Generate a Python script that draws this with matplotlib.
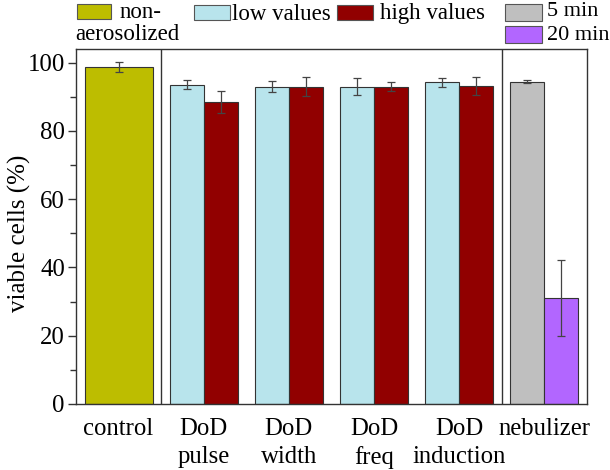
import matplotlib
matplotlib.use("Agg")
import matplotlib.pyplot as plt
from matplotlib.patches import Rectangle

plt.rcParams['font.family'] = ['Liberation Serif', 'DejaVu Serif']

categories = ["control", "DoD\npulse", "DoD\nwidth", "DoD\nfreq", "DoD\ninduction", "nebulizer"]
control_val = [98.8]
control_err = [1.5]
low_vals = [93.6, 93.0, 93.0, 94.2]
low_errs = [1.3, 1.5, 2.4, 1.3]
high_vals = [88.5, 93.0, 92.9, 93.2]
high_errs = [3.2, 2.9, 1.3, 2.6]
neb_vals = [94.4, 31.0]
neb_errs = [0.5, 11.2]
yticks = [0, 20, 40, 60, 80, 100]

c_olive = "#bdbd00"
c_low = "#b8e4ec"
c_high = "#910000"
c_gray = "#bfbfbf"
c_purple = "#b266ff"
edge = "#333333"

fig = plt.figure(figsize=(6.1, 4.7), dpi=100)
ax = fig.add_axes([76/610, 66/470, 511/610, 355/470])

ekw = dict(ecolor="#444444", elinewidth=0.9, capsize=3, capthick=0.9)
ax.bar([0], control_val, width=0.8, color=c_olive, edgecolor=edge, linewidth=0.8,
       yerr=control_err, error_kw=ekw)
xs = [1, 2, 3, 4]
ax.bar([x - 0.2 for x in xs], low_vals, width=0.4, color=c_low, edgecolor=edge, linewidth=0.8,
       yerr=low_errs, error_kw=ekw)
ax.bar([x + 0.2 for x in xs], high_vals, width=0.4, color=c_high, edgecolor=edge, linewidth=0.8,
       yerr=high_errs, error_kw=ekw)
ax.bar([5 - 0.2, 5 + 0.2], neb_vals, width=0.4, color=[c_gray, c_purple], edgecolor=edge,
       linewidth=0.8, yerr=neb_errs, error_kw=ekw)

ax.axvline(0.5, color=edge, linewidth=1.0)
ax.axvline(4.5, color=edge, linewidth=1.0)

ax.set_xlim(-0.5, 5.5)
ax.set_ylim(0, 104)
ax.set_yticks(yticks)
ax.set_yticks(range(10, 101, 20), minor=True)
ax.set_xticks(range(6))
ax.set_xticklabels(categories, fontsize=17.8, linespacing=1.36)
ax.tick_params(axis='x', length=0, pad=10)
ax.tick_params(axis='y', which='major', length=6, width=1, labelsize=17.8, color=edge, pad=2)
ax.tick_params(axis='y', which='minor', length=4, width=1, color=edge)
for s in ax.spines.values():
    s.set_color(edge)
    s.set_linewidth(1.0)
ax.set_ylabel("viable cells (%)", fontsize=18)
ax.yaxis.set_label_coords(-0.088, 0.48)

# legend boxes above the axes (figure pixel coordinates, y from top)
W, H = 610, 470
def box(x0, y0, x1, y1, color):
    fig.patches.append(Rectangle((x0/W, 1 - y1/H), (x1-x0)/W, (y1-y0)/H,
                                 transform=fig.transFigure, facecolor=color,
                                 edgecolor="#555555", linewidth=0.8))
def txt(x, y, s, fs=16.5):
    fig.text(x/W, 1 - y/H, s, fontsize=fs, ha='left', va='center')

box(77, 4, 111, 19, c_olive)
txt(120, 12, "non-")
txt(75, 34, "aerosolized")
box(194, 5, 230, 20, c_low)
txt(232, 14, "low values")
box(337, 5, 373, 20, c_high)
txt(380, 14, "high values")
box(505, 4, 542, 21, c_gray)
txt(547, 12, "5 min", 16)
box(505, 26, 542, 43, c_purple)
txt(547, 35, "20 min", 16)

fig.savefig("out.png", dpi=100)
